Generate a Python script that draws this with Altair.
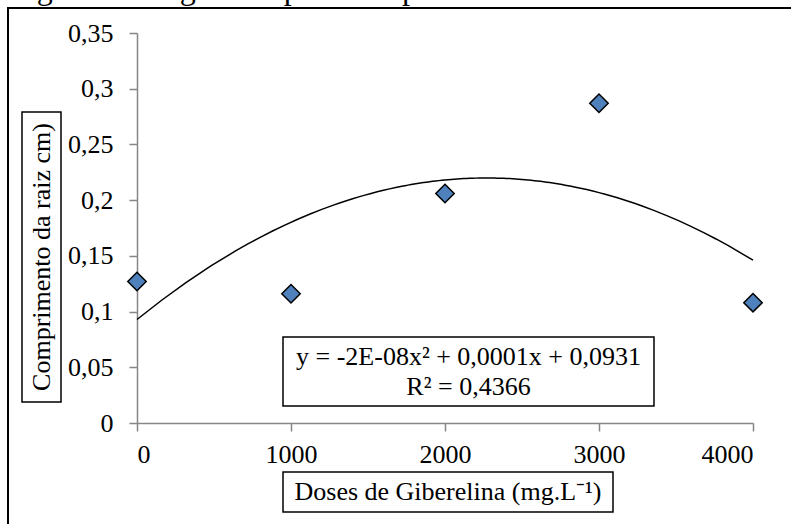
import altair as alt
import pandas as pd

doses = [0, 1000, 2000, 3000, 4000]
comprimento = [0.127, 0.116, 0.206, 0.287, 0.108]
y_ticks = [0, 0.05, 0.1, 0.15, 0.2, 0.25, 0.3, 0.35]
x_ticks = [0, 1000, 2000, 3000, 4000]

eq_line1 = "y = -2E-08x² + 0,0001x + 0,0931"
eq_line2 = "R² = 0,4366"
x_title = "Doses de Giberelina (mg.L⁻¹)"
y_title = "Comprimento da raiz cm)"
fig_title = "Figura 4 - Regressão para comprimento da raiz"

FONT = "Liberation Serif"
FS = 26
W, H = 616, 390

df = pd.DataFrame({"dose": doses, "comp": comprimento})
one = pd.DataFrame({"k": [0]})

xs = alt.Scale(domain=[0, 4000], nice=False, zero=False)
ys = alt.Scale(domain=[0, 0.35], nice=False)

axis_common = dict(
    domainColor="#868686", domainWidth=1.5, tickColor="#868686", tickWidth=1.5,
    tickSize=8, grid=False, labelFont=FONT, labelFontSize=FS, labelColor="black",
    title=None,
)

points = alt.Chart(df).mark_point(
    shape="diamond", filled=True, size=340, fill="#4F81BD", stroke="black",
    strokeWidth=1.5, opacity=1,
).encode(
    x=alt.X("dose:Q", scale=xs, axis=alt.Axis(values=x_ticks, format="d", labelPadding=10, **axis_common)),
    y=alt.Y("comp:Q", scale=ys, axis=alt.Axis(
        values=y_ticks, labelPadding=16,
        labelExpr="replace(format(datum.value, '.2~f'), '.', ',')",
        **axis_common)),
)

trend = alt.Chart(df).transform_regression(
    "dose", "comp", method="poly", order=2, extent=[0, 4000]
).mark_line(color="black", strokeWidth=1.5).encode(
    x=alt.X("dose:Q", scale=xs),
    y=alt.Y("comp:Q", scale=ys),
)

# outer frame
frame = alt.Chart(one).mark_rect(fill=None, stroke="black", strokeWidth=2).encode(
    x=alt.value(-129), x2=alt.value(720), y=alt.value(-25), y2=alt.value(540)
)

title_txt = alt.Chart(one).mark_text(
    font=FONT, fontSize=32, align="left", baseline="alphabetic", color="black"
).encode(x=alt.value(-127), y=alt.value(-34), text=alt.value(fig_title))

# equation box
eq_box = alt.Chart(one).mark_rect(fill="white", stroke="black", strokeWidth=1.5).encode(
    x=alt.value(146), x2=alt.value(517), y=alt.value(304), y2=alt.value(373)
)
eq1 = alt.Chart(one).mark_text(font=FONT, fontSize=FS, align="center", baseline="middle", color="black").encode(
    x=alt.value(331.5), y=alt.value(324), text=alt.value(eq_line1))
eq2 = alt.Chart(one).mark_text(font=FONT, fontSize=FS, align="center", baseline="middle", color="black").encode(
    x=alt.value(331.5), y=alt.value(354), text=alt.value(eq_line2))

# x title box
xt_box = alt.Chart(one).mark_rect(fill="white", stroke="black", strokeWidth=1.5).encode(
    x=alt.value(146), x2=alt.value(476), y=alt.value(439), y2=alt.value(479)
)
xt = alt.Chart(one).mark_text(font=FS and FONT, fontSize=FS, align="center", baseline="middle", color="black").encode(
    x=alt.value(311), y=alt.value(459), text=alt.value(x_title))

# y title box
yt_box = alt.Chart(one).mark_rect(fill="white", stroke="black", strokeWidth=1.5).encode(
    x=alt.value(-115), x2=alt.value(-76), y=alt.value(79), y2=alt.value(369)
)
yt = alt.Chart(one).mark_text(font=FONT, fontSize=FS, align="center", baseline="middle", angle=270, color="black").encode(
    x=alt.value(-95.5), y=alt.value(224), text=alt.value(y_title))

chart = alt.layer(
    frame, title_txt, trend, points, eq_box, eq1, eq2, xt_box, xt, yt_box, yt
).properties(
    width=W, height=H,
    autosize=alt.AutoSizeParams(type="none"),
    padding={"left": 137, "top": 33, "right": 38, "bottom": 101},
    background="white",
).configure_view(stroke=None)

chart.save("out.html", embed_options={"renderer": "svg", "actions": False})
